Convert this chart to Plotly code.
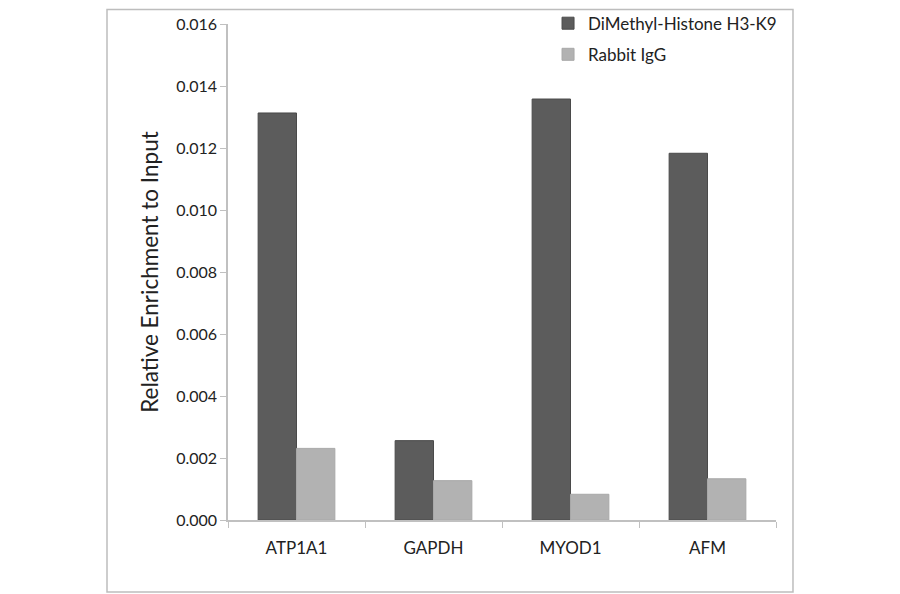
import plotly.graph_objects as go

genes = ["ATP1A1", "GAPDH", "MYOD1", "AFM"]
dimethyl_h3k9 = [0.01313, 0.00256, 0.01358, 0.01183]
rabbit_igg = [0.00231, 0.00127, 0.00083, 0.00133]
y_ticks = [0.000, 0.002, 0.004, 0.006, 0.008, 0.010, 0.012, 0.014, 0.016]

FONT = "Lato, Open Sans, sans-serif"
TEXT = "#222222"
AXIS = "#c0c0c0"

fig = go.Figure()
fig.add_trace(go.Bar(
    x=genes, y=dimethyl_h3k9, name="DiMethyl-Histone H3-K9",
    marker=dict(color="#5c5c5c", line=dict(color="#4a4a4a", width=1)),
    legendgroup="a",
))
fig.add_trace(go.Bar(
    x=genes, y=rabbit_igg, name="Rabbit IgG",
    marker=dict(color="#b2b2b2", line=dict(color="#a8a8a8", width=1)),
    legendgroup="b",
))

# outer chart frame (page body has an 8px margin, figure sized to fit)
fig.add_shape(
    type="rect", xref="paper", yref="paper",
    x0=-0.2208, x1=1.031, y0=-0.145, y1=1.029,
    line=dict(color="#bdbdbd", width=1.5), fillcolor="rgba(0,0,0,0)",
    layer="below",
)

fig.update_layout(
    width=892, height=586,
    margin=dict(l=220, r=124, t=16, b=74, autoexpand=False),
    paper_bgcolor="white", plot_bgcolor="white",
    barmode="group", bargap=0.44, bargroupgap=0,
    font=dict(family=FONT, color=TEXT, size=16),
    showlegend=True,
    legend=dict(
        x=0.584, y=1.037, xanchor="left", yanchor="top",
        font=dict(size=17, color=TEXT), traceorder="grouped",
        tracegroupgap=6, itemwidth=30, bgcolor="rgba(0,0,0,0)",
    ),
)
fig.update_xaxes(
    showline=True, linecolor=AXIS, linewidth=1.5,
    ticks="outside", tickson="boundaries", ticklen=6, tickcolor=AXIS,
    tickfont=dict(size=17, color=TEXT), ticklabelstandoff=12,
    showgrid=False, range=[-0.5, 3.5],
)
fig.update_yaxes(
    range=[0, 0.016], tickvals=y_ticks, tickformat=".3f",
    showline=True, linecolor=AXIS, linewidth=1.5,
    ticks="outside", ticklen=6, tickcolor=AXIS,
    tickfont=dict(size=16, color=TEXT), showgrid=False, zeroline=False,
    title=dict(text="Relative Enrichment to Input", font=dict(size=22.5, color=TEXT), standoff=11),
)

fig.write_html("out.html")
